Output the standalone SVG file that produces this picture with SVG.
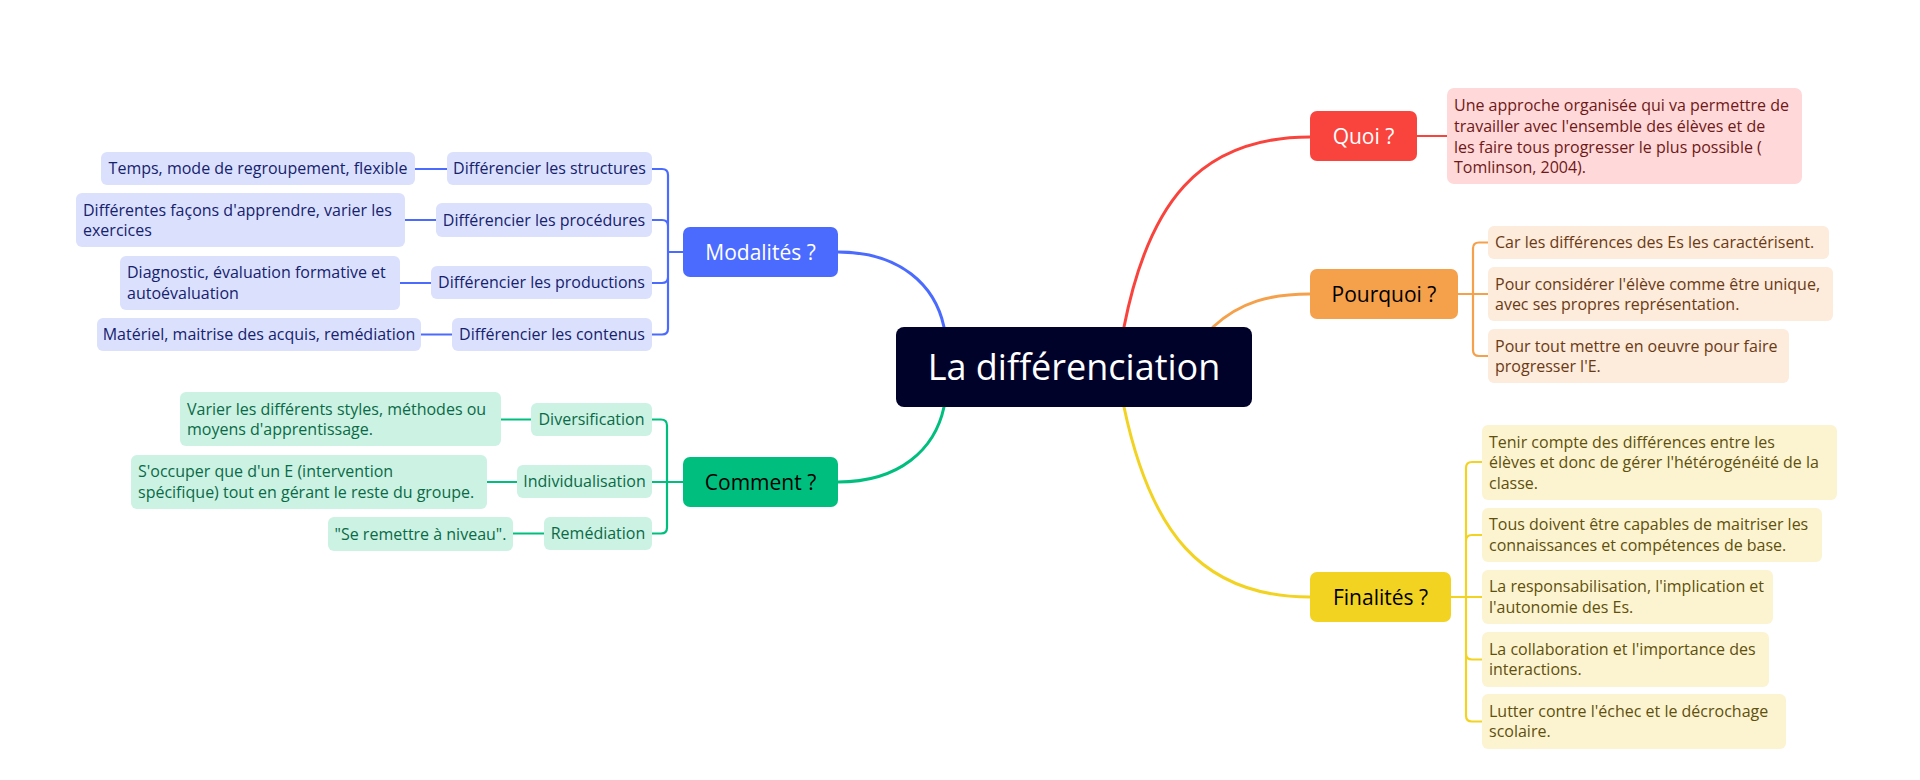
<svg xmlns="http://www.w3.org/2000/svg" width="1920" height="780" viewBox="0 0 1920 780">
<style>
text{font-family:"Open Sans","Liberation Sans",sans-serif;}
.t16{font-size:16px;}
.main{font-size:21px;}
.c{text-anchor:middle;}
.line{fill:none;stroke-width:3;stroke-linecap:round;}
.br{fill:none;stroke-width:2.2;stroke-linecap:round;stroke-linejoin:round;}
.blue{stroke:#4B6BFF;} .green{stroke:#00BF7E;} .red{stroke:#F9443E;} .orange{stroke:#F5A04B;} .yellow{stroke:#F2D322;}
.bb{fill:#DBE1FD;} .bt{fill:#16226E;}
.gb{fill:#CCF2E4;} .gt{fill:#0A6A46;}
.ob{fill:#FDEBDC;} .ot{fill:#6A3A14;}
.yb{fill:#FCF4D1;} .yt{fill:#5F500D;}
.rb{fill:#FFD9D9;} .rt{fill:#6E1818;}
</style>
<rect width="1920" height="780" fill="#FFFFFF"/>
<g id="connectors">
<path class="line blue" d="M838,252 C900,252 935,285 944,327"/>
<path class="line green" d="M838,482 C900,482 935,449 944,407"/>
<path class="line red" d="M1124,327 C1148,205 1198,137 1310,137"/>
<path class="line orange" d="M1213,327 C1240,302 1270,294 1310,294"/>
<path class="line yellow" d="M1124,407 C1150,530 1200,597 1310,597"/>
<path class="br red" d="M1417,136 H1447"/>
<!-- Modalités bracket -->
<path class="br blue" d="M652,169 H662 Q668,169 668,175 V328.5 Q668,334.5 662,334.5 H652 M652,220 H662 Q668,220 668,226 M652,283 H662 Q668,283 668,277 M668,252 H683"/>
<path class="br blue" d="M415,169 H447 M405,220 H436 M400,283 H431 M421,334.5 H452"/>
<!-- Comment bracket -->
<path class="br green" d="M652,419.5 H661 Q667,419.5 667,425.5 V527.5 Q667,533.5 661,533.5 H652 M652,482 H683"/>
<path class="br green" d="M501,419.5 H531 M487,482 H517 M513,533.5 H544"/>
<!-- Pourquoi bracket -->
<path class="br orange" d="M1458,294 H1488 M1488,242.5 H1479 Q1473,242.5 1473,248.5 V350 Q1473,356 1479,356 H1488"/>
<!-- Finalités bracket -->
<path class="br yellow" d="M1451,597 H1482 M1482,462 H1472 Q1466,462 1466,468 V715.5 Q1466,721.5 1472,721.5 H1482 M1482,535 H1472 Q1466,535 1466,541 M1482,659.5 H1472 Q1466,659.5 1466,653.5"/>
</g>
<g id="central">
<rect x="896" y="327" width="356" height="80" rx="8" fill="#000229"/>
<text x="1074" y="380" class="c" font-size="36" fill="#FFFFFF">La différenciation</text>
</g>
<g id="quoi">
<rect x="1310" y="111" width="107" height="50" rx="7" fill="#F9443E"/>
<text x="1363.5" y="143.5" class="c main" fill="#FFFFFF">Quoi ?</text>
</g>
<g id="quoi-detail">
<rect x="1447" y="88" width="355" height="96" rx="7" class="rb"/>
<text class="t16 rt" x="1454" y="111">Une approche organisée qui va permettre de</text>
<text class="t16 rt" x="1454" y="132">travailler avec l'ensemble des élèves et de</text>
<text class="t16 rt" x="1454" y="152.5">les faire tous progresser le plus possible (</text>
<text class="t16 rt" x="1454" y="173">Tomlinson, 2004).</text>
</g>
<g id="pourquoi">
<rect x="1310" y="269" width="148" height="50" rx="7" fill="#F5A04B"/>
<text x="1384" y="301.5" class="c main" fill="#000000">Pourquoi ?</text>
</g>
<g id="pourquoi-1">
<rect x="1488" y="226" width="341" height="33" rx="6" class="ob"/>
<text class="t16 ot" x="1495" y="248">Car les différences des Es les caractérisent.</text>
</g>
<g id="pourquoi-2">
<rect x="1488" y="267" width="345" height="54" rx="6" class="ob"/>
<text class="t16 ot" x="1495" y="289.5">Pour considérer l'élève comme être unique,</text>
<text class="t16 ot" x="1495" y="310">avec ses propres représentation.</text>
</g>
<g id="pourquoi-3">
<rect x="1488" y="329" width="301" height="54" rx="6" class="ob"/>
<text class="t16 ot" x="1495" y="351.5">Pour tout mettre en oeuvre pour faire</text>
<text class="t16 ot" x="1495" y="372">progresser l'E.</text>
</g>
<g id="finalites">
<rect x="1310" y="572" width="141" height="50" rx="7" fill="#F2D322"/>
<text x="1380.5" y="604.5" class="c main" fill="#000000">Finalités ?</text>
</g>
<g id="finalites-1">
<rect x="1482" y="425" width="355" height="75" rx="6" class="yb"/>
<text class="t16 yt" x="1489" y="447.5">Tenir compte des différences entre les</text>
<text class="t16 yt" x="1489" y="468">élèves et donc de gérer l'hétérogénéité de la</text>
<text class="t16 yt" x="1489" y="488.5">classe.</text>
</g>
<g id="finalites-2">
<rect x="1482" y="508" width="340" height="54" rx="6" class="yb"/>
<text class="t16 yt" x="1489" y="530">Tous doivent être capables de maitriser les</text>
<text class="t16 yt" x="1489" y="551">connaissances et compétences de base.</text>
</g>
<g id="finalites-3">
<rect x="1482" y="570" width="291" height="54" rx="6" class="yb"/>
<text class="t16 yt" x="1489" y="592">La responsabilisation, l'implication et</text>
<text class="t16 yt" x="1489" y="613">l'autonomie des Es.</text>
</g>
<g id="finalites-4">
<rect x="1482" y="632" width="287" height="55" rx="6" class="yb"/>
<text class="t16 yt" x="1489" y="654.5">La collaboration et l'importance des</text>
<text class="t16 yt" x="1489" y="675">interactions.</text>
</g>
<g id="finalites-5">
<rect x="1482" y="694" width="304" height="55" rx="6" class="yb"/>
<text class="t16 yt" x="1489" y="716.5">Lutter contre l'échec et le décrochage</text>
<text class="t16 yt" x="1489" y="737">scolaire.</text>
</g>
<g id="modalites">
<rect x="683" y="227" width="155" height="50" rx="7" fill="#4B6BFF"/>
<text x="760.5" y="259.5" class="c main" fill="#FFFFFF">Modalités ?</text>
</g>
<g id="mod-structures">
<rect x="447" y="152" width="205" height="33" rx="6" class="bb"/>
<text class="t16 bt c" x="549.5" y="174">Différencier les structures</text>
</g>
<g id="mod-structures-detail">
<rect x="101" y="152" width="314" height="33" rx="6" class="bb"/>
<text class="t16 bt c" x="258" y="174">Temps, mode de regroupement, flexible</text>
</g>
<g id="mod-procedures">
<rect x="436" y="203" width="216" height="34" rx="6" class="bb"/>
<text class="t16 bt c" x="544" y="225.5">Différencier les procédures</text>
</g>
<g id="mod-procedures-detail">
<rect x="76" y="193" width="329" height="54" rx="6" class="bb"/>
<text class="t16 bt" x="83" y="215.5">Différentes façons d'apprendre, varier les</text>
<text class="t16 bt" x="83" y="236">exercices</text>
</g>
<g id="mod-productions">
<rect x="431" y="266" width="221" height="33" rx="6" class="bb"/>
<text class="t16 bt c" x="541.5" y="288">Différencier les productions</text>
</g>
<g id="mod-productions-detail">
<rect x="120" y="256" width="280" height="54" rx="6" class="bb"/>
<text class="t16 bt" x="127" y="278">Diagnostic, évaluation formative et</text>
<text class="t16 bt" x="127" y="299">autoévaluation</text>
</g>
<g id="mod-contenus">
<rect x="452" y="318" width="200" height="33" rx="6" class="bb"/>
<text class="t16 bt c" x="552" y="340">Différencier les contenus</text>
</g>
<g id="mod-contenus-detail">
<rect x="97" y="318" width="324" height="33" rx="6" class="bb"/>
<text class="t16 bt c" x="259" y="340">Matériel, maitrise des acquis, remédiation</text>
</g>
<g id="comment">
<rect x="683" y="457" width="155" height="50" rx="7" fill="#00BF7E"/>
<text x="760.5" y="489.5" class="c main" fill="#000000">Comment ?</text>
</g>
<g id="com-diversification">
<rect x="531" y="403" width="121" height="33" rx="6" class="gb"/>
<text class="t16 gt c" x="591.5" y="425">Diversification</text>
</g>
<g id="com-diversification-detail">
<rect x="180" y="392" width="321" height="54" rx="6" class="gb"/>
<text class="t16 gt" x="187" y="414.5">Varier les différents styles, méthodes ou</text>
<text class="t16 gt" x="187" y="435">moyens d'apprentissage.</text>
</g>
<g id="com-individualisation">
<rect x="517" y="465" width="135" height="33" rx="6" class="gb"/>
<text class="t16 gt c" x="584.5" y="487">Individualisation</text>
</g>
<g id="com-individualisation-detail">
<rect x="131" y="455" width="356" height="54" rx="6" class="gb"/>
<text class="t16 gt" x="138" y="477">S'occuper que d'un E (intervention</text>
<text class="t16 gt" x="138" y="497.5">spécifique) tout en gérant le reste du groupe.</text>
</g>
<g id="com-remediation">
<rect x="544" y="517" width="108" height="33" rx="6" class="gb"/>
<text class="t16 gt c" x="598" y="539">Remédiation</text>
</g>
<g id="com-remediation-detail">
<rect x="328" y="517" width="185" height="34" rx="6" class="gb"/>
<text class="t16 gt c" x="420.5" y="539.5">"Se remettre à niveau".</text>
</g>
</svg>
